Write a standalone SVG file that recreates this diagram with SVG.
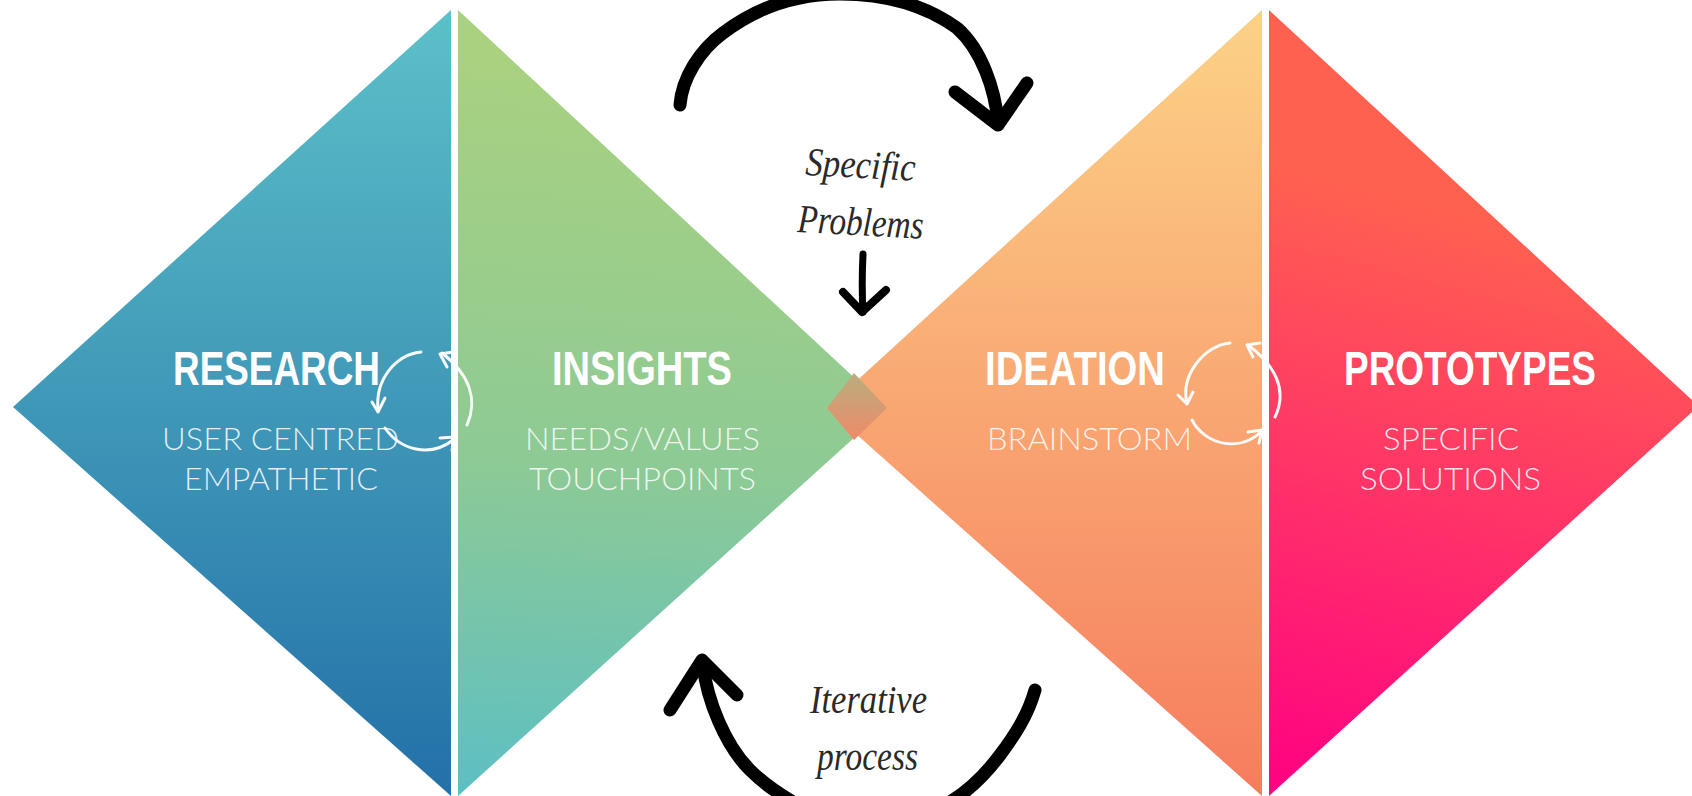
<svg xmlns="http://www.w3.org/2000/svg" width="1692" height="796" viewBox="0 0 1692 796">
<style>
.h{font-family:"Liberation Sans",Arial,sans-serif;font-weight:700;font-size:48px;fill:#fff}
.s{font-family:"Lato","Liberation Sans",sans-serif;font-weight:300;font-size:32px;fill:#fff;fill-opacity:.85}
.w{font-family:"Liberation Serif",serif;font-style:italic;font-size:40px;fill:#2a2a2a}
.c{fill:none;stroke:#fff;stroke-width:3;stroke-linecap:round;stroke-linejoin:round;opacity:.95}
.b{fill:none;stroke:#000;stroke-width:13;stroke-linecap:round;stroke-linejoin:round}
</style>
<defs>
<linearGradient id="g1" x1="0" y1="0" x2="0" y2="1"><stop offset="0" stop-color="#5cc0c8"/><stop offset="1" stop-color="#2370a8"/></linearGradient>
<linearGradient id="g2" gradientUnits="userSpaceOnUse" x1="560" y1="60" x2="520" y2="796"><stop offset="0" stop-color="#a9d180"/><stop offset=".55" stop-color="#8dca95"/><stop offset="1" stop-color="#5dbfc3"/></linearGradient>
<linearGradient id="g3" x1="0" y1="0" x2="0" y2="1"><stop offset="0" stop-color="#fcd287"/><stop offset="1" stop-color="#f67c5e"/></linearGradient>
<linearGradient id="g4" gradientUnits="userSpaceOnUse" x1="1420" y1="200" x2="1269" y2="796"><stop offset="0" stop-color="#ff6150"/><stop offset="1" stop-color="#ff0082"/></linearGradient>
<linearGradient id="g5" x1="0" y1="0" x2="0" y2="1"><stop offset="0" stop-color="#b8ae7e"/><stop offset="1" stop-color="#f08a68"/></linearGradient>
</defs>
<rect width="1692" height="796" fill="#fff"/>
<g id="research"><polygon points="13,407 451,10 451,796 451,796" fill="url(#g1)"/>
<text class="h" x="173" y="385" textLength="207" lengthAdjust="spacingAndGlyphs">RESEARCH</text>
<text class="s" x="162" y="450" textLength="237" lengthAdjust="spacingAndGlyphs">USER CENTRED</text>
<text class="s" x="184" y="490" textLength="194" lengthAdjust="spacingAndGlyphs">EMPATHETIC</text></g>
<g id="insights"><polygon points="458,10 887,408 458,796" fill="url(#g2)"/>
<text class="h" x="552" y="385" textLength="180" lengthAdjust="spacingAndGlyphs">INSIGHTS</text>
<text class="s" x="525" y="450" textLength="235" lengthAdjust="spacingAndGlyphs">NEEDS/VALUES</text>
<text class="s" x="529" y="490" textLength="227" lengthAdjust="spacingAndGlyphs">TOUCHPOINTS</text></g>
<g id="ideation"><polygon points="1262,10 827,408 1262,796" fill="url(#g3)"/>
<polygon points="854,373 887,408 854,440 827,408" fill="url(#g5)"/>
<text class="h" x="985" y="385" textLength="180" lengthAdjust="spacingAndGlyphs">IDEATION</text>
<text class="s" x="987" y="450" textLength="205" lengthAdjust="spacingAndGlyphs">BRAINSTORM</text></g>
<g id="prototypes"><polygon points="1269,10 1692,400 1692,412 1269,796" fill="url(#g4)"/>
<text class="h" x="1344" y="385" textLength="252" lengthAdjust="spacingAndGlyphs">PROTOTYPES</text>
<text class="s" x="1383" y="450" textLength="136" lengthAdjust="spacingAndGlyphs">SPECIFIC</text>
<text class="s" x="1360" y="490" textLength="181" lengthAdjust="spacingAndGlyphs">SOLUTIONS</text></g>
<g id="labels">
<text class="w" transform="rotate(3 805 175)" x="805" y="175" textLength="110" lengthAdjust="spacingAndGlyphs">Specific</text>
<text class="w" transform="rotate(3 797 232)" x="797" y="232" textLength="126" lengthAdjust="spacingAndGlyphs">Problems</text>
<text class="w" x="810" y="713" textLength="117" lengthAdjust="spacingAndGlyphs">Iterative</text>
<text class="w" x="817" y="770" textLength="101" lengthAdjust="spacingAndGlyphs">process</text>
</g>
<g id="connectors">
<path class="b" d="M680 105C682 78 700 50 723 33C760 5 800 -6 840 -6C885 -6 925 5 957 28C982 50 995 90 998 122"/>
<path class="b" d="M955 92L998 125L1027 83"/>
<path class="b" stroke-width="7" style="stroke-width:7" d="M863 254C862 275 862 295 863 312"/>
<path class="b" style="stroke-width:8" d="M843 292L862 312L886 290"/>
<path class="b" d="M703 665C707 700 725 745 750 770C765 785 780 795 800 806"/>
<path class="b" d="M670 710L702 660L737 695"/>
<path class="b" d="M1035 690C1028 715 1015 735 1000 755C985 775 970 790 950 802"/>
<path class="c" d="M421 352C395 355 375 380 378 410"/>
<path class="c" d="M372 402L378 412L385 398"/>
<path class="c" d="M385 428C400 450 430 458 453 440"/>
<path class="c" d="M440 438L455 437L452 450"/>
<path class="c" d="M467 425C478 400 470 375 442 353"/>
<path class="c" d="M453 352L440 354L447 367"/>
<path class="c" d="M1230 343C1205 345 1180 375 1187 403"/>
<path class="c" d="M1178 395L1187 404L1193 392"/>
<path class="c" d="M1192 420C1205 445 1240 453 1262 431"/>
<path class="c" d="M1248 432L1262 430L1259 443"/>
<path class="c" d="M1275 417C1288 390 1275 365 1248 345"/>
<path class="c" d="M1260 343L1247 345L1253 357"/>
</g>
</svg>
